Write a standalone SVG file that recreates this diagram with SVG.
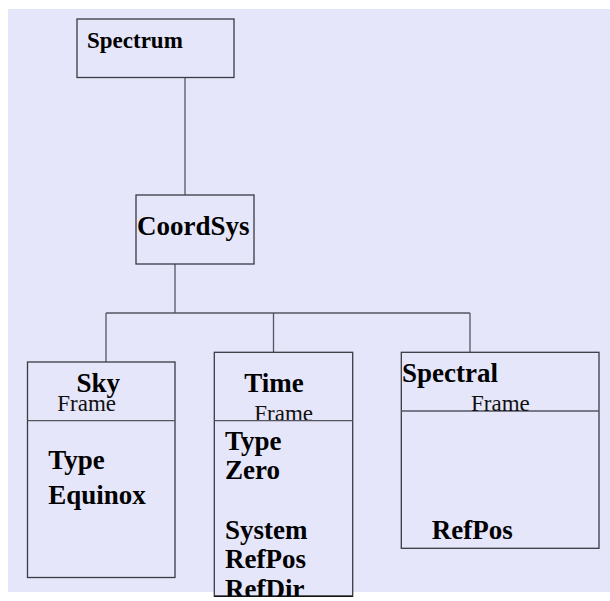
<svg xmlns="http://www.w3.org/2000/svg" width="610" height="601" viewBox="0 0 610 601">
<defs>
<style>
.box{fill:#E6E6FA;stroke:#3a3a44;stroke-width:1.3}
.ln{fill:none;stroke:#555560;stroke-width:1.3}
.b{font-family:"Liberation Serif","Times New Roman",serif;font-weight:bold;font-size:27px;fill:#000}
.r{font-family:"Liberation Serif","Times New Roman",serif;font-size:23px;fill:#111}
</style>
<clipPath id="timeClip"><rect x="214" y="352" width="139" height="244"/></clipPath>
</defs>
<rect x="0" y="0" width="610" height="601" fill="#ffffff"/>
<rect x="8" y="9" width="602" height="583" fill="#E6E6FA"/>
<g id="connectors">
<path class="ln" d="M185 77.5 V195"/>
<path class="ln" d="M175 264 V313"/>
<path class="ln" d="M106 313 H470"/>
<path class="ln" d="M106 313 V362"/>
<path class="ln" d="M273.5 313 V352"/>
<path class="ln" d="M470 313 V352"/>
</g>
<g id="spectrum">
<rect class="box" x="77" y="19" width="157" height="58.5"/>
<text class="b" x="87" y="48" style="font-size:23px">Spectrum</text>
</g>
<g id="coordsys">
<rect class="box" x="136" y="195" width="118" height="69"/>
<text class="b" x="137" y="235">CoordSys</text>
</g>
<g id="sky">
<rect class="box" x="27.5" y="362" width="147.5" height="215.5"/>
<line class="ln" x1="27.5" y1="420.7" x2="175" y2="420.7"/>
<text class="b" x="76.5" y="392">Sky</text>
<text class="r" x="57.3" y="410.7">Frame</text>
<text class="b" x="48.3" y="469">Type</text>
<text class="b" x="48.3" y="503.5">Equinox</text>
</g>
<g id="time">
<rect class="box" x="214.3" y="352.3" width="138.4" height="244"/>
<text class="b" x="244.3" y="391.5">Time</text>
<text class="r" x="254.3" y="421">Frame</text>
<line class="ln" x1="214.3" y1="420.7" x2="352.7" y2="420.7"/>
<g clip-path="url(#timeClip)">
<text class="b" x="225" y="450">Type</text>
<text class="b" x="225" y="479">Zero</text>
<text class="b" x="225" y="539">System</text>
<text class="b" x="225" y="568">RefPos</text>
<text class="b" x="225" y="597.5">RefDir</text>
</g>
<line x1="214.3" y1="596.3" x2="352.7" y2="596.3" stroke="#111" stroke-width="1.5"/>
</g>
<g id="spectral">
<rect class="box" x="401.3" y="352.3" width="197.7" height="196"/>
<line class="ln" x1="401.3" y1="411" x2="599" y2="411"/>
<text class="b" x="402" y="381.5">Spectral</text>
<text class="r" x="471" y="411">Frame</text>
<text class="b" x="431.7" y="539">RefPos</text>
</g>
</svg>
